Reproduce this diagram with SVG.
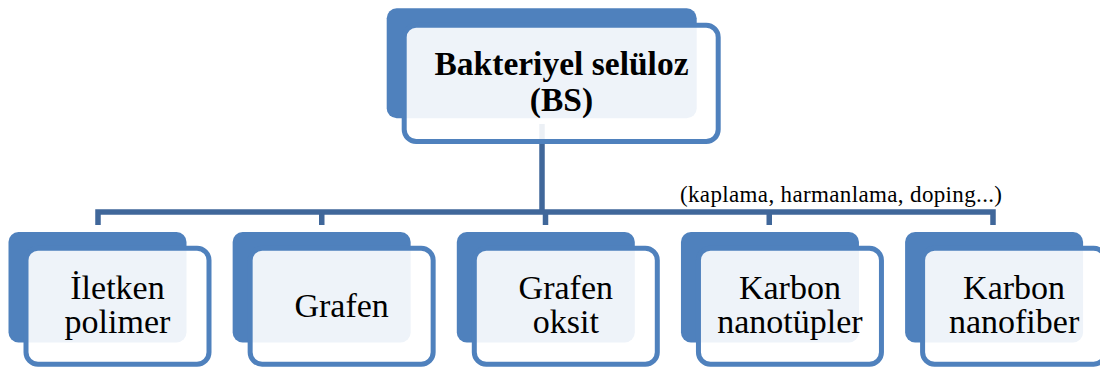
<svg xmlns="http://www.w3.org/2000/svg" width="1100" height="367" viewBox="0 0 1100 367">
<style>
.back{fill:#4F81BD;}
.front{fill:#FFFFFF;fill-opacity:0.9;stroke:#4F81BD;stroke-width:5;}
.conn{fill:none;stroke:#40679A;stroke-width:5.5;stroke-linejoin:miter;stroke-linecap:butt;}
.t{font-family:"Liberation Serif","Times New Roman",Tinos,serif;font-size:34px;fill:#000;text-anchor:middle;}
.tb{font-weight:bold;font-size:33.5px;}
.lbl{font-family:"Liberation Serif","Times New Roman",Tinos,serif;font-size:23px;fill:#000;}
</style>
<rect width="1100" height="367" fill="#FFFFFF"/>
<g id="connectors">
<path class="conn" d="M542,124 V212"/>
<path class="conn" d="M98,225 V212 H993 V225"/>
<path class="conn" d="M321.75,212 V225 M545.5,212 V225 M769.25,212 V225"/>
<text class="lbl" x="680" y="202" textLength="322" lengthAdjust="spacing">(kaplama, harmanlama, doping...)</text>
</g>
<g id="node-bs">
<rect class="back" x="386.7" y="8.3" width="310" height="110" rx="10"/>
<rect class="front" x="404.2" y="25.2" width="314" height="116.3" rx="12"/>
<text class="t tb" x="561.5" y="74.5">Bakteriyel selüloz</text>
<text class="t tb" x="561.5" y="111">(BS)</text>
</g>
<g id="node-iletken">
<rect class="back" x="8.5" y="232" width="178" height="110.5" rx="10"/>
<rect class="front" x="26" y="248.2" width="183" height="116" rx="12"/>
<text class="t" x="117.5" y="298.5">İletken</text>
<text class="t" x="117.5" y="333">polimer</text>
</g>
<g id="node-grafen">
<rect class="back" x="232.65" y="232" width="178" height="110.5" rx="10"/>
<rect class="front" x="250.15" y="248.2" width="183" height="116" rx="12"/>
<text class="t" x="341.65" y="316.7">Grafen</text>
</g>
<g id="node-grafen-oksit">
<rect class="back" x="456.8" y="232" width="178" height="110.5" rx="10"/>
<rect class="front" x="474.3" y="248.2" width="183" height="116" rx="12"/>
<text class="t" x="565.8" y="298.5">Grafen</text>
<text class="t" x="565.8" y="333">oksit</text>
</g>
<g id="node-nanotupler">
<rect class="back" x="680.95" y="232" width="178" height="110.5" rx="10"/>
<rect class="front" x="698.45" y="248.2" width="183" height="116" rx="12"/>
<text class="t" x="789.95" y="298.5">Karbon</text>
<text class="t" x="789.95" y="333">nanotüpler</text>
</g>
<g id="node-nanofiber">
<rect class="back" x="905.1" y="232" width="178" height="110.5" rx="10"/>
<rect class="front" x="922.6" y="248.2" width="183" height="116" rx="12"/>
<text class="t" x="1014.1" y="298.5">Karbon</text>
<text class="t" x="1014.1" y="333">nanofiber</text>
</g>
</svg>
